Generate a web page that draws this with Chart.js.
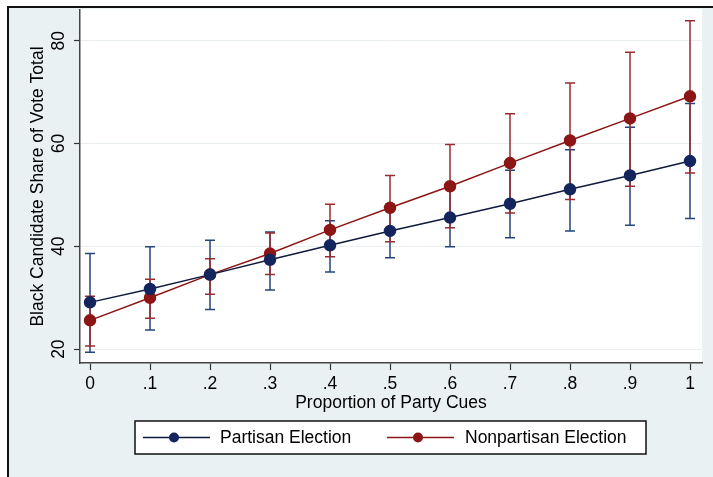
<!DOCTYPE html>
<html>
<head>
<meta charset="utf-8">
<script src="https://cdn.jsdelivr.net/npm/chart.js@4.4.1/dist/chart.umd.min.js"></script>
<style>
  html, body { margin: 0; padding: 0; background: #fff; }
</style>
</head>
<body>
<canvas id="c" width="713" height="477"></canvas>
<script>
// values
var cues = [0, 0.1, 0.2, 0.3, 0.4, 0.5, 0.6, 0.7, 0.8, 0.9, 1];
var partisan     = [29.1, 31.7, 34.5, 37.4, 40.2, 43.0, 45.6, 48.3, 51.1, 53.8, 56.6];
var partisanLow  = [19.4, 23.7, 27.7, 31.5, 35.0, 37.8, 39.9, 41.7, 43.0, 44.1, 45.4];
var partisanHigh = [38.6, 39.9, 41.2, 42.8, 45.0, 48.2, 51.3, 54.8, 58.8, 63.2, 67.8];
var nonpartisan     = [25.6, 30.0, 34.5, 38.6, 43.2, 47.5, 51.7, 56.2, 60.6, 64.9, 69.2];
var nonpartisanLow  = [20.6, 26.0, 30.7, 34.5, 38.0, 40.9, 43.6, 46.5, 49.1, 51.7, 54.3];
var nonpartisanHigh = [30.3, 33.6, 37.6, 42.6, 48.2, 53.8, 59.8, 65.8, 71.8, 77.8, 83.9];
var yTicks = [20, 40, 60, 80];
var seriesNames = ['Partisan Election', 'Nonpartisan Election'];

var FONT = 'Liberation Sans, Arial, sans-serif';
var FSIZE = 17.5;
var NAVY = '#14255e';
var MAROON = '#8c1515';

function pts(vals) {
  var out = [];
  for (var i = 0; i < cues.length; i++) out.push({x: cues[i], y: vals[i]});
  return out;
}

function tickLabel(v) {
  var r = Math.round(v * 10) / 10;
  if (r === 0) return '0';
  if (r === 1) return '1';
  return '.' + Math.round(r * 10);
}

// frame, background and white plot area
var backdrop = {
  id: 'backdrop',
  beforeDraw: function(chart) {
    var ctx = chart.ctx, a = chart.chartArea;
    ctx.save();
    ctx.fillStyle = '#ffffff';
    ctx.fillRect(0, 0, chart.width, chart.height);
    ctx.fillStyle = '#eaf1f3';
    ctx.fillRect(8, 7, chart.width - 8, chart.height - 7);
    ctx.strokeStyle = '#111';
    ctx.lineWidth = 2;
    ctx.beginPath();
    ctx.moveTo(8, chart.height);
    ctx.lineTo(8, 7);
    ctx.lineTo(chart.width, 7);
    ctx.stroke();
    ctx.fillStyle = '#ffffff';
    ctx.fillRect(a.left, a.top - 1, a.right - a.left, a.bottom - a.top + 1);
    ctx.restore();
  }
};

function drawBars(chart, lo, hi, color) {
  var ctx = chart.ctx, xs = chart.scales.x, ys = chart.scales.y;
  ctx.save();
  ctx.strokeStyle = color;
  ctx.lineWidth = 1.5;
  for (var i = 0; i < cues.length; i++) {
    var x = xs.getPixelForValue(cues[i]);
    var y1 = ys.getPixelForValue(lo[i]);
    var y2 = ys.getPixelForValue(hi[i]);
    ctx.beginPath();
    ctx.moveTo(x, y1); ctx.lineTo(x, y2);
    ctx.moveTo(x - 5, y1); ctx.lineTo(x + 5, y1);
    ctx.moveTo(x - 5, y2); ctx.lineTo(x + 5, y2);
    ctx.stroke();
  }
  ctx.restore();
}

var errorBars = {
  id: 'errorBars',
  beforeDatasetsDraw: function(chart) {
    drawBars(chart, partisanLow, partisanHigh, '#24457a');
    drawBars(chart, nonpartisanLow, nonpartisanHigh, '#9a2b2e');
  }
};

// rotated y tick labels and the boxed legend
var extras = {
  id: 'extras',
  afterDraw: function(chart) {
    var ctx = chart.ctx, ys = chart.scales.y;
    ctx.save();
    ctx.fillStyle = '#000';
    ctx.font = FSIZE + 'px ' + FONT;
    ctx.textAlign = 'center';
    ctx.textBaseline = 'middle';
    yTicks.forEach(function(v) {
      var y = ys.getPixelForValue(v);
      ctx.save();
      ctx.translate(59, y);
      ctx.rotate(-Math.PI / 2);
      ctx.fillText(String(v), 0, 0);
      ctx.restore();
    });

    // legend
    ctx.fillStyle = '#fff';
    ctx.fillRect(135, 421, 511, 33);
    ctx.strokeStyle = '#111';
    ctx.lineWidth = 1.5;
    ctx.strokeRect(135, 421, 511, 33);
    var items = [
      {x0: 143, x1: 210, mx: 174, tx: 220, line: '#0f1a3d', dot: NAVY},
      {x0: 387, x1: 454, mx: 418, tx: 465, line: MAROON, dot: MAROON}
    ];
    var ly = 437.5;
    items.forEach(function(it, k) {
      ctx.strokeStyle = it.line;
      ctx.lineWidth = 1.5;
      ctx.beginPath();
      ctx.moveTo(it.x0, ly); ctx.lineTo(it.x1, ly);
      ctx.stroke();
      ctx.fillStyle = it.dot;
      ctx.beginPath();
      ctx.arc(it.mx, ly, 5, 0, Math.PI * 2);
      ctx.fill();
      ctx.fillStyle = '#000';
      ctx.textAlign = 'left';
      ctx.textBaseline = 'middle';
      ctx.fillText(seriesNames[k], it.tx, ly + 1);
    });
    ctx.restore();
  }
};

new Chart(document.getElementById('c'), {
  type: 'line',
  data: {
    datasets: [
      {
        label: seriesNames[0],
        data: pts(partisan),
        borderColor: '#0f1a3d',
        borderWidth: 1.5,
        pointRadius: 5.5,
        pointBackgroundColor: NAVY,
        pointBorderColor: NAVY,
        tension: 0
      },
      {
        label: seriesNames[1],
        data: pts(nonpartisan),
        borderColor: MAROON,
        borderWidth: 1.5,
        pointRadius: 5.5,
        pointBackgroundColor: MAROON,
        pointBorderColor: MAROON,
        tension: 0
      }
    ]
  },
  options: {
    responsive: false,
    animation: false,
    devicePixelRatio: 1,
    layout: { padding: { left: 0, top: 10, right: 11, bottom: 62 } },
    plugins: { legend: { display: false }, tooltip: { enabled: false } },
    scales: {
      x: {
        type: 'linear',
        min: -0.0167,
        max: 1.02,
        afterBuildTicks: function(s) { s.ticks = cues.map(function(v) { return {value: v}; }); },
        afterFit: function(s) { s.height = 52; },
        grid: { drawOnChartArea: false, drawTicks: true, tickLength: 7, tickColor: '#333', tickWidth: 1.2 },
        border: { display: true, color: '#444', width: 1.5 },
        ticks: {
          autoSkip: false, maxRotation: 0, padding: 4,
          color: '#000', font: { family: FONT, size: FSIZE },
          callback: function(v) { return tickLabel(v); }
        },
        title: {
          display: true, text: 'Proportion of Party Cues', color: '#000',
          font: { family: FONT, size: FSIZE }, padding: { top: 0, bottom: 1 }
        }
      },
      y: {
        type: 'linear',
        min: 17.3,
        max: 86,
        afterBuildTicks: function(s) { s.ticks = yTicks.map(function(v) { return {value: v}; }); },
        afterFit: function(s) { s.width = 80; },
        grid: { color: '#e9eff1', lineWidth: 1, drawTicks: true, tickLength: 6, tickColor: '#333', tickWidth: 1.2 },
        border: { display: true, color: '#444', width: 1.5 },
        ticks: { display: false },
        title: {
          display: true, text: 'Black Candidate Share of Vote Total', color: '#000',
          font: { family: FONT, size: FSIZE }, padding: { top: 28, bottom: 0 }
        }
      }
    }
  },
  plugins: [backdrop, errorBars, extras]
});
</script>
</body>
</html>
